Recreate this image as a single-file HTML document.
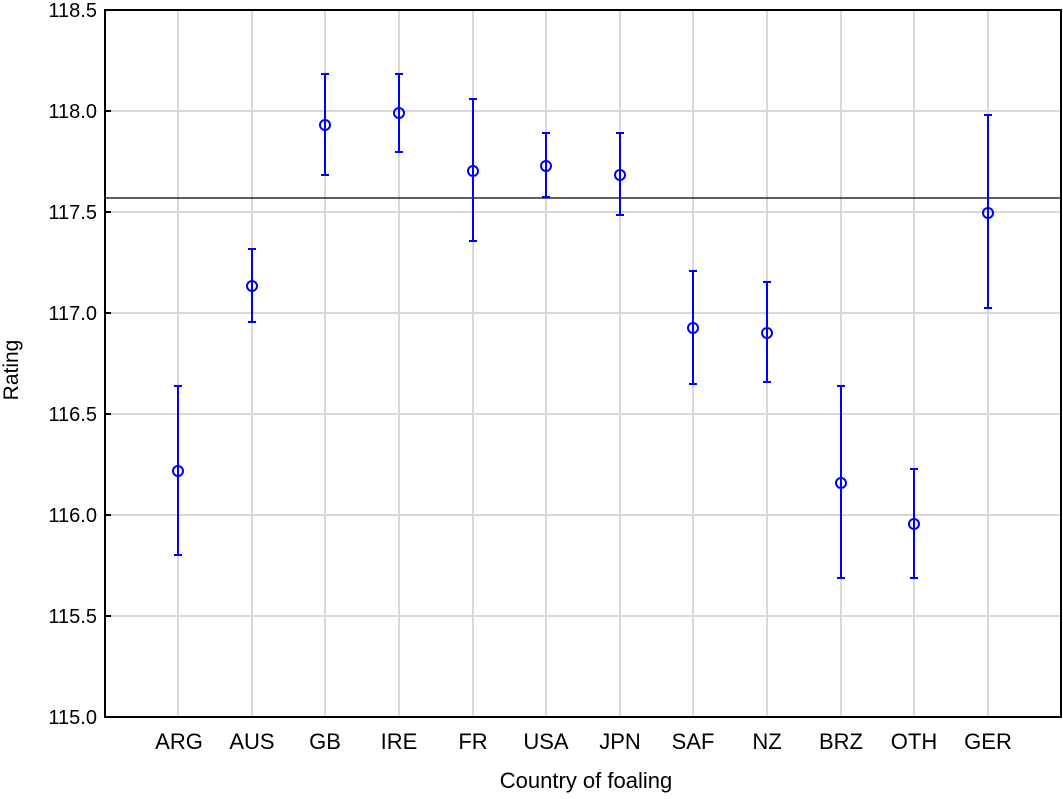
<!DOCTYPE html>
<html><head><style>body{margin:0;background:#fff}</style></head><body>
<svg width="1063" height="794" xmlns="http://www.w3.org/2000/svg" font-family="Liberation Sans, Arial, sans-serif" font-size="20">
<g stroke="#d9d9d9" stroke-width="2">
<line x1="105" x2="1061" y1="111" y2="111"/><line x1="105" x2="1061" y1="212" y2="212"/><line x1="105" x2="1061" y1="313" y2="313"/><line x1="105" x2="1061" y1="414" y2="414"/><line x1="105" x2="1061" y1="515" y2="515"/><line x1="105" x2="1061" y1="616" y2="616"/>
<line x1="178" x2="178" y1="10" y2="717"/><line x1="252" x2="252" y1="10" y2="717"/><line x1="325" x2="325" y1="10" y2="717"/><line x1="399" x2="399" y1="10" y2="717"/><line x1="473" x2="473" y1="10" y2="717"/><line x1="546" x2="546" y1="10" y2="717"/><line x1="620" x2="620" y1="10" y2="717"/><line x1="693" x2="693" y1="10" y2="717"/><line x1="767" x2="767" y1="10" y2="717"/><line x1="841" x2="841" y1="10" y2="717"/><line x1="914" x2="914" y1="10" y2="717"/><line x1="988" x2="988" y1="10" y2="717"/>
</g>
<line x1="105" x2="1061" y1="198" y2="198" stroke="#000" stroke-width="1.3"/>
<rect x="105" y="10" width="956" height="707" fill="none" stroke="#000" stroke-width="2"/>
<g stroke="#000" stroke-width="2">
<line x1="105" x2="111" y1="111" y2="111"/><line x1="105" x2="111" y1="212" y2="212"/><line x1="105" x2="111" y1="313" y2="313"/><line x1="105" x2="111" y1="414" y2="414"/><line x1="105" x2="111" y1="515" y2="515"/><line x1="105" x2="111" y1="616" y2="616"/>
</g>
<g text-anchor="end" fill="#000">
<text x="97" y="17">118.5</text><text x="97" y="118">118.0</text><text x="97" y="219">117.5</text><text x="97" y="320">117.0</text><text x="97" y="421">116.5</text><text x="97" y="522">116.0</text><text x="97" y="623">115.5</text><text x="97" y="724">115.0</text>
</g>
<g text-anchor="middle" fill="#000" font-size="22">
<text x="179" y="749">ARG</text><text x="252" y="749">AUS</text><text x="325" y="749">GB</text><text x="399" y="749">IRE</text><text x="473" y="749">FR</text><text x="546" y="749">USA</text><text x="620" y="749">JPN</text><text x="693" y="749">SAF</text><text x="767" y="749">NZ</text><text x="841" y="749">BRZ</text><text x="914" y="749">OTH</text><text x="988" y="749">GER</text>
<text x="586" y="788">Country of foaling</text>
<text transform="translate(18,370) rotate(-90)" font-size="21">Rating</text>
</g>
<g stroke="#0000ff" stroke-width="2" fill="none">
<path d="M178 386V555M174 386h8M174 555h8"/><circle cx="178" cy="471" r="5"/>
<path d="M252 249V322M248 249h8M248 322h8"/><circle cx="252" cy="286" r="5"/>
<path d="M325 74V175M321 74h8M321 175h8"/><circle cx="325" cy="125" r="5"/>
<path d="M399 74V152M395 74h8M395 152h8"/><circle cx="399" cy="113" r="5"/>
<path d="M473 99V241M469 99h8M469 241h8"/><circle cx="473" cy="171" r="5"/>
<path d="M546 133V197M542 133h8M542 197h8"/><circle cx="546" cy="166" r="5"/>
<path d="M620 133V215M616 133h8M616 215h8"/><circle cx="620" cy="175" r="5"/>
<path d="M693 271V384M689 271h8M689 384h8"/><circle cx="693" cy="328" r="5"/>
<path d="M767 282V382M763 282h8M763 382h8"/><circle cx="767" cy="333" r="5"/>
<path d="M841 386V578M837 386h8M837 578h8"/><circle cx="841" cy="483" r="5"/>
<path d="M914 469V578M910 469h8M910 578h8"/><circle cx="914" cy="524" r="5"/>
<path d="M988 115V308M984 115h8M984 308h8"/><circle cx="988" cy="213" r="5"/>
</g>
</svg>
</body></html>
